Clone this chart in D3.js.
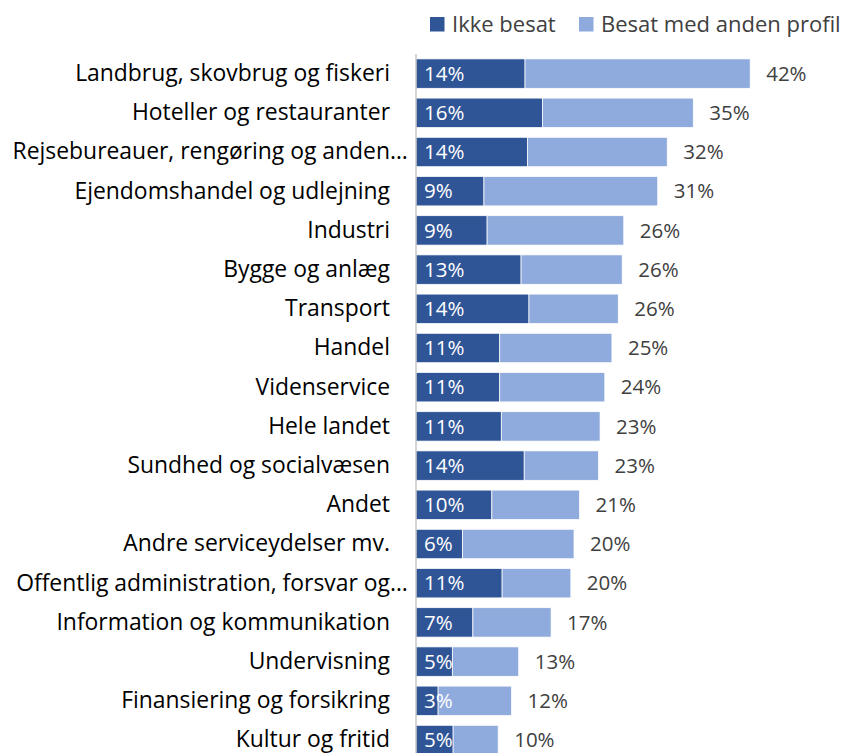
<!DOCTYPE html>
<html>
<head>
<meta charset="utf-8">
<script src="https://cdn.jsdelivr.net/npm/d3@7"></script>
<style>
  body { margin: 0; background: #fff; }
  svg { display: block; font-family: "Open Sans", "Noto Sans", sans-serif; }
</style>
</head>
<body>
<svg id="chart" width="845" height="753"></svg>
<script>
let categories = [
  "Landbrug, skovbrug og fiskeri",
  "Hoteller og restauranter",
  "Rejsebureauer, rengøring og anden…",
  "Ejendomshandel og udlejning",
  "Industri",
  "Bygge og anlæg",
  "Transport",
  "Handel",
  "Videnservice",
  "Hele landet",
  "Sundhed og socialvæsen",
  "Andet",
  "Andre serviceydelser mv.",
  "Offentlig administration, forsvar og…",
  "Information og kommunikation",
  "Undervisning",
  "Finansiering og forsikring",
  "Kultur og fritid"
];
// percent
let ikkeBesat  = [13.8, 16.0, 14.1, 8.6, 9.0, 13.3, 14.3, 10.6, 10.6, 10.8, 13.7, 9.6, 5.9, 10.9, 7.2, 4.6, 2.8, 4.7];
let besatAnden = [28.5, 19.1, 17.7, 22.0, 17.3, 12.8, 11.3, 14.2, 13.3, 12.5, 9.4, 11.1, 14.1, 8.7, 9.9, 8.4, 9.3, 5.7];
let seriesNames = ["Ikke besat", "Besat med anden profil"];
let colors = ["#2f5597", "#8faadc"];

var drawChart = function() {
  let svg = d3.select("#chart");
  let margin = { top: 54, left: 416 };

  let x = d3.scaleLinear()
    .domain([0, 50])
    .range([margin.left, margin.left + 395]);

  let y = d3.scaleBand()
    .domain(categories)
    .range([margin.top, margin.top + categories.length * 39.2])
    .paddingInner(0.25)
    .paddingOuter(0.125);

  let rows = categories.map(function(c, i) {
    return { cat: c, a: ikkeBesat[i], b: besatAnden[i] };
  });

  let plot = svg.append("g").attr("id", "plot");

  // dark segment
  plot.selectAll("rect.a").data(rows).enter().append("rect")
    .attr("class", "a")
    .attr("x", x(0))
    .attr("y", d => y(d.cat))
    .attr("width", d => x(d.a) - x(0))
    .attr("height", y.bandwidth())
    .attr("fill", colors[0])
    .attr("stroke", "#fff")
    .attr("stroke-width", 0.75);

  // light segment
  plot.selectAll("rect.b").data(rows).enter().append("rect")
    .attr("class", "b")
    .attr("x", d => x(d.a))
    .attr("y", d => y(d.cat))
    .attr("width", d => x(d.a + d.b) - x(d.a))
    .attr("height", y.bandwidth())
    .attr("fill", colors[1])
    .attr("stroke", "#fff")
    .attr("stroke-width", 0.75);

  // axis line + category labels
  let yAxis = d3.axisLeft(y).tickSize(0).tickPadding(26);
  let yGroup = plot.append("g").attr("transform", "translate(" + x(0) + ",0)").call(yAxis);
  yGroup.select(".domain").attr("stroke", "#bfbfbf").attr("stroke-width", 1.3)
    .attr("d", "M0," + margin.top + "V800");
  yGroup.selectAll("text")
    .attr("font-size", 22.9)
    .attr("font-family", "'Open Sans', sans-serif")
    .attr("fill", "#000");
  // truncated labels: ellipsis hangs past the right edge
  yGroup.selectAll("text").each(function(d) {
    if (d.endsWith("…")) {
      let t = d3.select(this);
      let full = this.getComputedTextLength();
      t.text(d.slice(0, -1));
      let w = full - this.getComputedTextLength();
      t.text(d).attr("x", -26 + w);
    }
  });

  // labels inside dark
  plot.selectAll("text.la").data(rows).enter().append("text")
    .attr("class", "la")
    .attr("x", x(0) + 8)
    .attr("y", d => y(d.cat) + y.bandwidth() / 2)
    .attr("dy", "0.35em")
    .attr("fill", "#fff")
    .attr("font-size", 20.5)
    .text(d => Math.round(d.a) + "%");

  // total labels
  plot.selectAll("text.lt").data(rows).enter().append("text")
    .attr("class", "lt")
    .attr("x", d => x(d.a + d.b) + 16)
    .attr("y", d => y(d.cat) + y.bandwidth() / 2)
    .attr("dy", "0.35em")
    .attr("fill", "#404040")
    .attr("font-size", 20.5)
    .text(d => Math.round(d.a + d.b) + "%");

  // legend
  let legend = svg.append("g").attr("transform", "translate(430,17)");
  let lx = [0, 149];
  seriesNames.forEach(function(s, i) {
    let g = legend.append("g").attr("transform", "translate(" + lx[i] + ",0)");
    g.append("rect").attr("width", 14.5).attr("height", 14.5).attr("fill", colors[i]);
    g.append("text").attr("x", 22).attr("y", 7.5).attr("dy", "0.35em")
      .attr("font-size", 22).attr("fill", "#404040").text(s);
  });
}

drawChart();
</script>
</body>
</html>
